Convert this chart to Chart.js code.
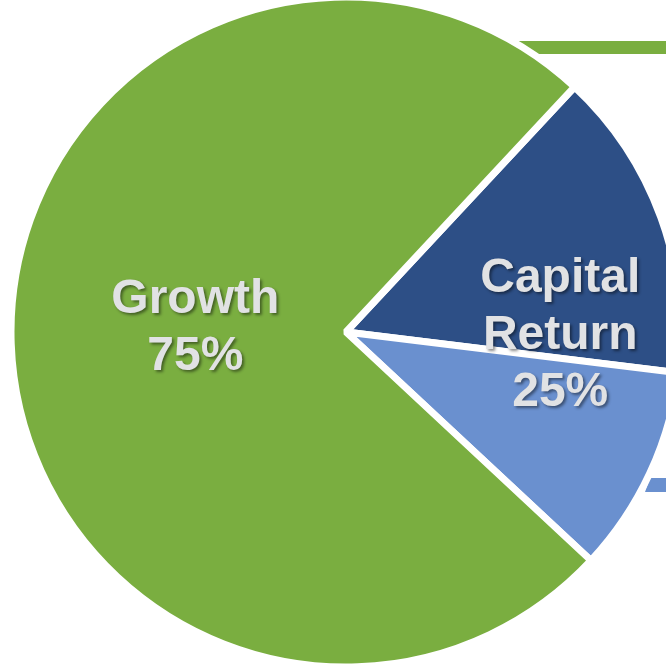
<!DOCTYPE html>
<html>
<head>
<meta charset="utf-8">
<script src="https://cdn.jsdelivr.net/npm/chart.js@4.4.0/dist/chart.umd.min.js"></script>
<style>
  html, body { margin: 0; padding: 0; background: #ffffff; }
  #wrap { width: 666px; height: 664px; position: relative; }
</style>
</head>
<body>
<div id="wrap"><canvas id="pieChart"></canvas></div>
<script>
    // Datos del gráfico
    const categorias = ['Capital Return (A)', 'Capital Return (B)', 'Growth'];
    const valores = [15, 10, 75];
    const colores = ['#2d4f86', '#6a90cf', '#7aae40'];
    const etiquetas = [
        { lineas: ['Growth', '75%'], slices: [2] },
        { lineas: ['Capital', 'Return', '25%'], slices: [0, 1] }
    ];

    // Etiquetas centradas en los sectores
    const labelPlugin = {
        id: 'sliceLabels',
        afterDatasetsDraw(chart) {
            const ctx = chart.ctx;
            const arcs = chart.getDatasetMeta(0).data;
            etiquetas.forEach(et => {
                const first = arcs[et.slices[0]];
                const last = arcs[et.slices[et.slices.length - 1]];
                const start = first.startAngle, end = last.endAngle;
                const grupo = et.slices.length > 1;
                const mid = (start + end) / 2;
                const r = first.outerRadius * (grupo ? 0.64 : 0.45);
                const cx = first.x + Math.cos(mid) * r;
                const cy = first.y + Math.sin(mid) * r + (grupo ? 11 : -9);
                const lh = 57;
                const top = cy - (et.lineas.length - 1) * lh / 2;
                ctx.save();
                ctx.font = 'bold 48px "Liberation Sans", Arial, sans-serif';
                ctx.textAlign = 'center';
                ctx.textBaseline = 'middle';
                ctx.shadowColor = 'rgba(0,0,0,0.45)';
                ctx.shadowBlur = 3;
                ctx.shadowOffsetX = 2;
                ctx.shadowOffsetY = 2;
                ctx.fillStyle = '#e1e2e4';
                et.lineas.forEach((t, i) => ctx.fillText(t, cx, top + i * lh));
                ctx.restore();
            });
        }
    };

    // Barras decorativas cortadas en el borde derecho
    const decoPlugin = {
        id: 'deco',
        beforeDatasetsDraw(chart) {
            const ctx = chart.ctx;
            const w = chart.width;
            ctx.save();
            ctx.fillStyle = colores[2];
            ctx.beginPath();
            ctx.moveTo(511, 41); ctx.lineTo(w, 41); ctx.lineTo(w, 54); ctx.lineTo(532, 54);
            ctx.closePath(); ctx.fill();
            ctx.fillStyle = colores[1];
            ctx.beginPath();
            ctx.moveTo(650, 478); ctx.lineTo(w, 478); ctx.lineTo(w, 492); ctx.lineTo(645, 492);
            ctx.closePath(); ctx.fill();
            ctx.restore();
        }
    };

    const pieCtx = document.getElementById('pieChart').getContext('2d');
    const pieChart = new Chart(pieCtx, {
        type: 'pie',
        data: {
            labels: categorias,
            datasets: [{
                data: valores,
                backgroundColor: colores,
                borderColor: '#ffffff',
                borderWidth: 7,
                hoverOffset: 0
            }]
        },
        options: {
            responsive: true,
            maintainAspectRatio: false,
            animation: false,
            rotation: 43,
            radius: 335,
            layout: { padding: { left: 26, right: 0, top: 0, bottom: 0 } },
            plugins: {
                legend: { display: false },
                tooltip: { enabled: false }
            }
        },
        plugins: [decoPlugin, labelPlugin]
    });
</script>
</body>
</html>
